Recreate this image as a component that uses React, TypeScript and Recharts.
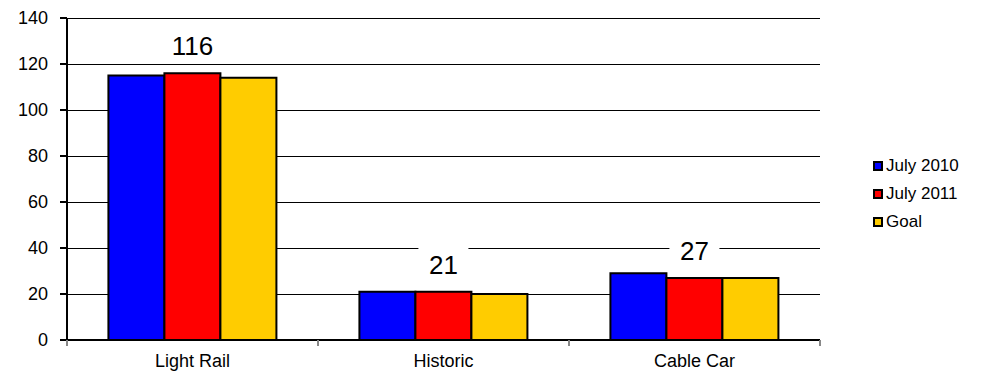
import React from "react";
import { BarChart, Bar, XAxis, YAxis, CartesianGrid, LabelList } from "recharts";

const categories = ["Light Rail", "Historic", "Cable Car"];
const july2010 = [115, 21, 29];
const july2011 = [116, 21, 27];
const goal = [114, 20, 27];
const yTicks = [0, 20, 40, 60, 80, 100, 120, 140];

const seriesNames = ["July 2010", "July 2011", "Goal"];
const seriesColors = ["#0000FF", "#FF0000", "#FFCC00"];

const data = categories.map((c, i) => ({
  name: c,
  july2010: july2010[i],
  july2011: july2011[i],
  goal: goal[i],
}));

const FONT = "'Liberation Sans', Arial, sans-serif";

const XTick = (props: any) => {
  const { x, y, payload } = props;
  const half = payload && payload.offset ? payload.offset : 125.5;
  return (
    <g>
      <line x1={x - half} x2={x - half} y1={y - 8} y2={y - 2} stroke="#888" strokeWidth={2} />
      <line x1={x + half} x2={x + half} y1={y - 8} y2={y - 2} stroke="#888" strokeWidth={2} />
      <text x={x} y={y + 19} textAnchor="middle" fontSize={18} fontFamily={FONT} fill="#000">
        {payload.value}
      </text>
    </g>
  );
};

const GridLine = (props: any) => {
  const { x1, x2, y1 } = props;
  const yy = Math.round(y1) + 0.5;
  return <line x1={x1} x2={x2} y1={yy} y2={yy} stroke="#000" strokeWidth={1} />;
};

const ValueLabel = (props: any) => {
  const { x, y, width, value } = props;
  const cx = x + width / 2;
  const str = String(value);
  const w = str.length * 15 + 20;
  return (
    <g>
      <rect x={cx - w / 2} y={y - 45} width={w} height={34} fill="#fff" />
      <text x={cx} y={y - 18} textAnchor="middle" fontSize={26} fontFamily={FONT} fill="#000">
        {str}
      </text>
    </g>
  );
};

const LegendBox = () => (
  <div style={{ position: "absolute", left: 873, top: 152, fontFamily: FONT, fontSize: 17, color: "#000" }}>
    {seriesNames.map((n, i) => (
      <div key={n} style={{ display: "flex", alignItems: "center", height: 28 }}>
        <div
          style={{
            width: 6,
            height: 6,
            background: seriesColors[i],
            border: "2px solid #000",
            marginRight: 3,
          }}
        />
        <span>{n}</span>
      </div>
    ))}
  </div>
);

export default function App() {
  return (
    <div style={{ position: "absolute", left: 0, top: 0, width: 981, height: 379, background: "#fff" }}>
      <BarChart
        width={981}
        height={379}
        data={data}
        margin={{ top: 18, right: 161, left: 0, bottom: 0 }}
        barGap={0}
        barCategoryGap="16.5%"
      >
        <CartesianGrid vertical={false} horizontal={<GridLine />} stroke="#000" strokeWidth={1} />
        <XAxis
          dataKey="name"
          height={39}
          axisLine={{ stroke: "#000", strokeWidth: 2 }}
          tickLine={false}
          tick={<XTick />}
          interval={0}
        />
        <YAxis
          width={67}
          domain={[0, 140]}
          ticks={yTicks}
          interval={0}
          axisLine={{ stroke: "#000", strokeWidth: 2 }}
          tickLine={{ stroke: "#000", strokeWidth: 2 }}
          tickSize={7}
          tickMargin={12}
          tick={{ fontSize: 18, fontFamily: FONT, fill: "#000" }}
        />
        <Bar dataKey="july2010" fill={seriesColors[0]} stroke="#000" strokeWidth={2} isAnimationActive={false} />
        <Bar dataKey="july2011" fill={seriesColors[1]} stroke="#000" strokeWidth={2} isAnimationActive={false}>
          <LabelList dataKey="july2011" content={<ValueLabel />} />
        </Bar>
        <Bar dataKey="goal" fill={seriesColors[2]} stroke="#000" strokeWidth={2} isAnimationActive={false} />
      </BarChart>
      <LegendBox />
    </div>
  );
}
